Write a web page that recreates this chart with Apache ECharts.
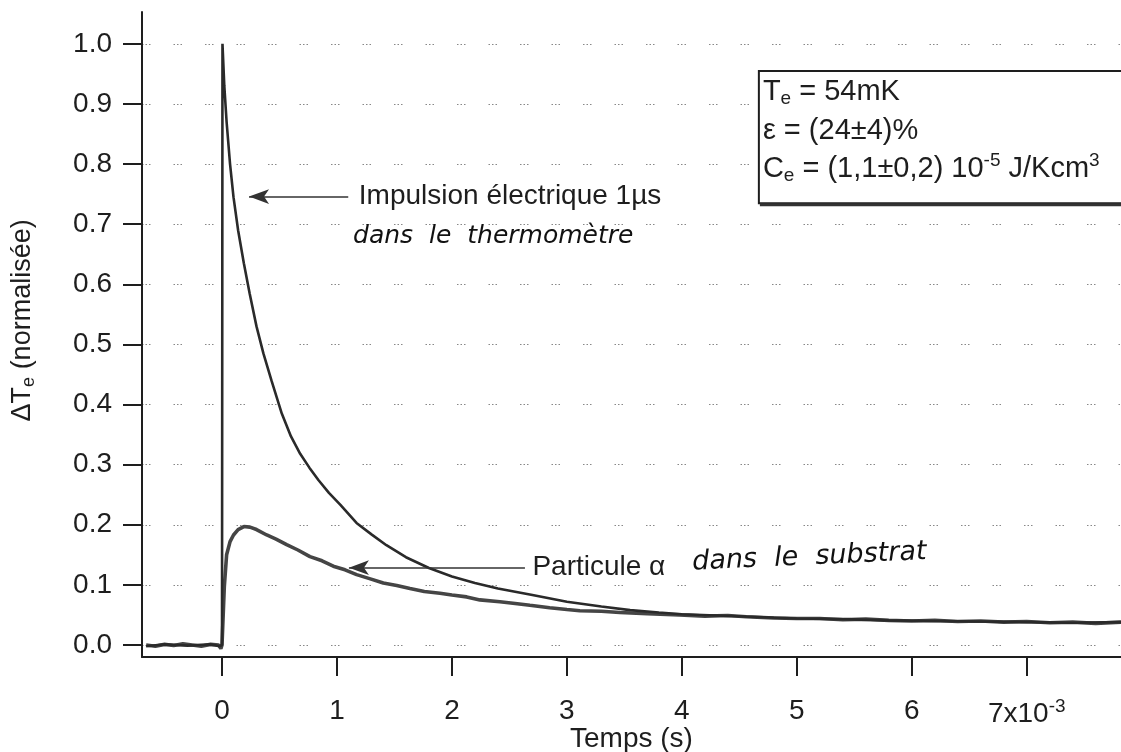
<!DOCTYPE html>
<html><head><meta charset="utf-8">
<script src="https://cdn.jsdelivr.net/npm/echarts@6/dist/echarts.min.js"></script>
<style>html,body{margin:0;padding:0;background:#fff}#c{width:1121px;height:752px}</style>
</head><body><div id="c"></div>
<script>
// Time in units of 1e-3 s
const pulseT = [-0.66,-0.5,-0.3,-0.1,-0.02,0,0.004,0.02,0.04,0.07,0.10,0.14,0.19,0.24,0.30,0.36,0.43,0.52,0.60,0.68,0.76,0.84,0.93,1.03,1.17,1.30,1.43,1.60,1.80,2.0,2.2,2.4,2.7,3.0,3.3,3.55,3.8,4.0,4.3,4.6,5.0,5.4,5.8,6.2,6.6,7.0,7.4,7.82];
const pulseV = [-0.002,0.001,-0.001,0.001,-0.002,0.0,1.0,0.93,0.87,0.80,0.745,0.69,0.635,0.585,0.53,0.485,0.44,0.385,0.347,0.318,0.295,0.274,0.253,0.233,0.203,0.184,0.166,0.146,0.128,0.114,0.103,0.094,0.083,0.072,0.064,0.058,0.054,0.051,0.049,0.047,0.044,0.043,0.041,0.040,0.039,0.038,0.037,0.038];
const alphaT = [-0.66,-0.58,-0.50,-0.42,-0.34,-0.26,-0.18,-0.10,-0.03,-0.01,0.0,0.02,0.04,0.07,0.10,0.14,0.19,0.243,0.30,0.389,0.47,0.562,0.66,0.765,0.87,0.968,1.07,1.171,1.29,1.403,1.52,1.635,1.76,1.896,2.0,2.128,2.243,2.417,2.55,2.678,2.85,3.0,3.113,3.3,3.46,3.7,3.98,4.2,4.4,4.56,4.8,5.0,5.2,5.4,5.6,5.8,6.0,6.2,6.4,6.6,6.8,7.0,7.2,7.4,7.6,7.82];
const alphaV = [0.000,-0.002,0.001,-0.001,0.002,0.000,-0.002,0.001,0.000,-0.006,0.000,0.097,0.150,0.172,0.183,0.192,0.197,0.196,0.192,0.183,0.176,0.167,0.158,0.147,0.140,0.131,0.125,0.117,0.110,0.103,0.099,0.094,0.089,0.086,0.083,0.080,0.075,0.072,0.069,0.066,0.062,0.059,0.057,0.056,0.054,0.052,0.050,0.048,0.049,0.047,0.045,0.044,0.044,0.042,0.043,0.041,0.040,0.041,0.039,0.040,0.038,0.039,0.037,0.038,0.036,0.038];
const xTicks = [0,1,2,3,4,5,6,7];
const yTicks = [0.0,0.1,0.2,0.3,0.4,0.5,0.6,0.7,0.8,0.9,1.0];

const FONT = '"Liberation Sans", Arial, Helvetica, sans-serif';
const HAND = '"DejaVu Sans", sans-serif';
const INK = '#1e1e1e';

const chart = echarts.init(document.getElementById('c'), null, {renderer: 'canvas'});
const option = {
  animation: false,
  backgroundColor: '#fff',
  grid: {left: 142, right: 0, top: 12, bottom: 95, containLabel: false, outerBoundsMode: 'none'},
  xAxis: {
    type: 'value', min: -0.696, max: 7.82,
    axisLine: {onZero: false, lineStyle: {color: INK, width: 2}},
    axisTick: {customValues: xTicks, length: 19, lineStyle: {color: INK, width: 2}},
    axisLabel: {
      customValues: xTicks, margin: 40, fontSize: 28, color: INK, fontFamily: FONT,
      formatter: v => v === 7 ? '7x10{sup|-3}' : String(v),
      rich: {sup: {fontSize: 19, color: INK, fontFamily: FONT, padding: [0, 0, 16, 0]}}
    },
    splitLine: {show: false},
    name: 'Temps (s)', nameLocation: 'middle', nameGap: 68, nameMoveOverlap: false,
    nameTextStyle: {fontSize: 28, color: INK, fontFamily: FONT}
  },
  yAxis: {
    type: 'value', min: -0.02, max: 1.053,
    axisLine: {show: true, onZero: false, lineStyle: {color: INK, width: 2}},
    axisTick: {show: true, customValues: yTicks, length: 19, lineStyle: {color: INK, width: 2}},
    axisLabel: {customValues: yTicks, margin: 30, fontSize: 28, color: INK, fontFamily: FONT,
      formatter: v => v.toFixed(1)},
    splitLine: {show: true, lineStyle: {color: '#888', width: 1.2, type: [1.5, 2, 1.5, 2, 1.5, 23]}}
  },
  series: [
    {
      name: 'pulse', type: 'line', showSymbol: false, z: 3,
      data: pulseT.map((t, i) => [t, pulseV[i]]),
      lineStyle: {color: '#2a2a2a', width: 2.6},
      markLine: {
        silent: true, symbol: ['none', 'arrow'], symbolSize: [11, 20],
        label: {show: false},
        lineStyle: {color: '#333', width: 1.6, type: 'solid'},
        data: [
          [{coord: [1.098, 0.746]}, {coord: [0.235, 0.746]}],
          [{coord: [2.635, 0.1286]}, {coord: [1.104, 0.1286]}]
        ]
      }
    },
    {
      name: 'alpha', type: 'line', showSymbol: false, z: 2,
      data: alphaT.map((t, i) => [t, alphaV[i]]),
      lineStyle: {color: '#454545', width: 3.6}
    }
  ]
};
chart.setOption(option);

function px(t, v) { return chart.convertToPixel({gridIndex: 0}, [t, v]); }
const pImp = px(1.19, 0.746);
const pDans1 = px(1.14, 0.679);
const pPart = px(2.70, 0.1286);
const pDans2 = px(4.09, 0.137);
const pBox = px(4.67, 0.955);
const pBoxB = px(7.82, 0.735);
const pYName = px(-0.696, 0.54);

const subE = {fontSize: 19, fontFamily: FONT, fill: INK, padding: [14, 0, 0, 0]};
const supS = {fontSize: 19, fontFamily: FONT, fill: INK, padding: [0, 0, 16, 0]};
const boxW = pBoxB[0] - pBox[0] + 10;
const boxH = pBoxB[1] - pBox[1];

chart.setOption({
  graphic: [
    {type: 'text', x: pImp[0], y: pImp[1], style: {text: 'Impulsion électrique 1µs', font: '28px ' + FONT, fill: INK, verticalAlign: 'middle'}},
    {type: 'text', x: pDans1[0], y: pDans1[1], style: {text: 'dans  le  thermomètre', font: 'italic 25px ' + HAND, fill: '#111', verticalAlign: 'middle'}},
    {type: 'text', x: pPart[0], y: pPart[1], style: {text: 'Particule α', font: '28px ' + FONT, fill: INK, verticalAlign: 'middle'}},
    {type: 'text', x: pDans2[0], y: pDans2[1], rotation: 0.045, style: {text: 'dans  le  substrat', font: 'italic 27px ' + HAND, fill: '#111', verticalAlign: 'middle'}},
    {type: 'rect', z: 10, shape: {x: pBox[0], y: pBox[1], width: boxW, height: boxH},
      style: {fill: '#fff', stroke: INK, lineWidth: 2}},
    {type: 'line', z: 11, shape: {x1: pBox[0] + 1, y1: pBox[1] + boxH + 1.5, x2: pBox[0] + boxW, y2: pBox[1] + boxH + 1.5},
      style: {stroke: '#333', lineWidth: 3}},
    {type: 'text', z: 11, x: pBox[0] + 4, y: pBox[1] + 21, style: {text: 'T{e|e} = 54mK', font: '29px ' + FONT, fill: INK, verticalAlign: 'middle', rich: {e: subE}}},
    {type: 'text', z: 11, x: pBox[0] + 4, y: pBox[1] + 60, style: {text: 'ε = (24±4)%', font: '29px ' + FONT, fill: INK, verticalAlign: 'middle'}},
    {type: 'text', z: 11, x: pBox[0] + 4, y: pBox[1] + 98, style: {text: 'C{e|e} = (1,1±0,2) 10{s|-5} J/Kcm{s|3}', font: '29px ' + FONT, fill: INK, verticalAlign: 'middle', rich: {e: subE, s: supS}}},
    {type: 'text', x: 23, y: pYName[1], rotation: Math.PI / 2, style: {text: 'ΔT{e|e} (normalisée)', font: '27px ' + FONT, fill: INK, align: 'center', verticalAlign: 'middle', rich: {e: {fontSize: 18, fontFamily: FONT, fill: INK, padding: [12, 0, 0, 0]}}}}
  ]
});
</script></body></html>
